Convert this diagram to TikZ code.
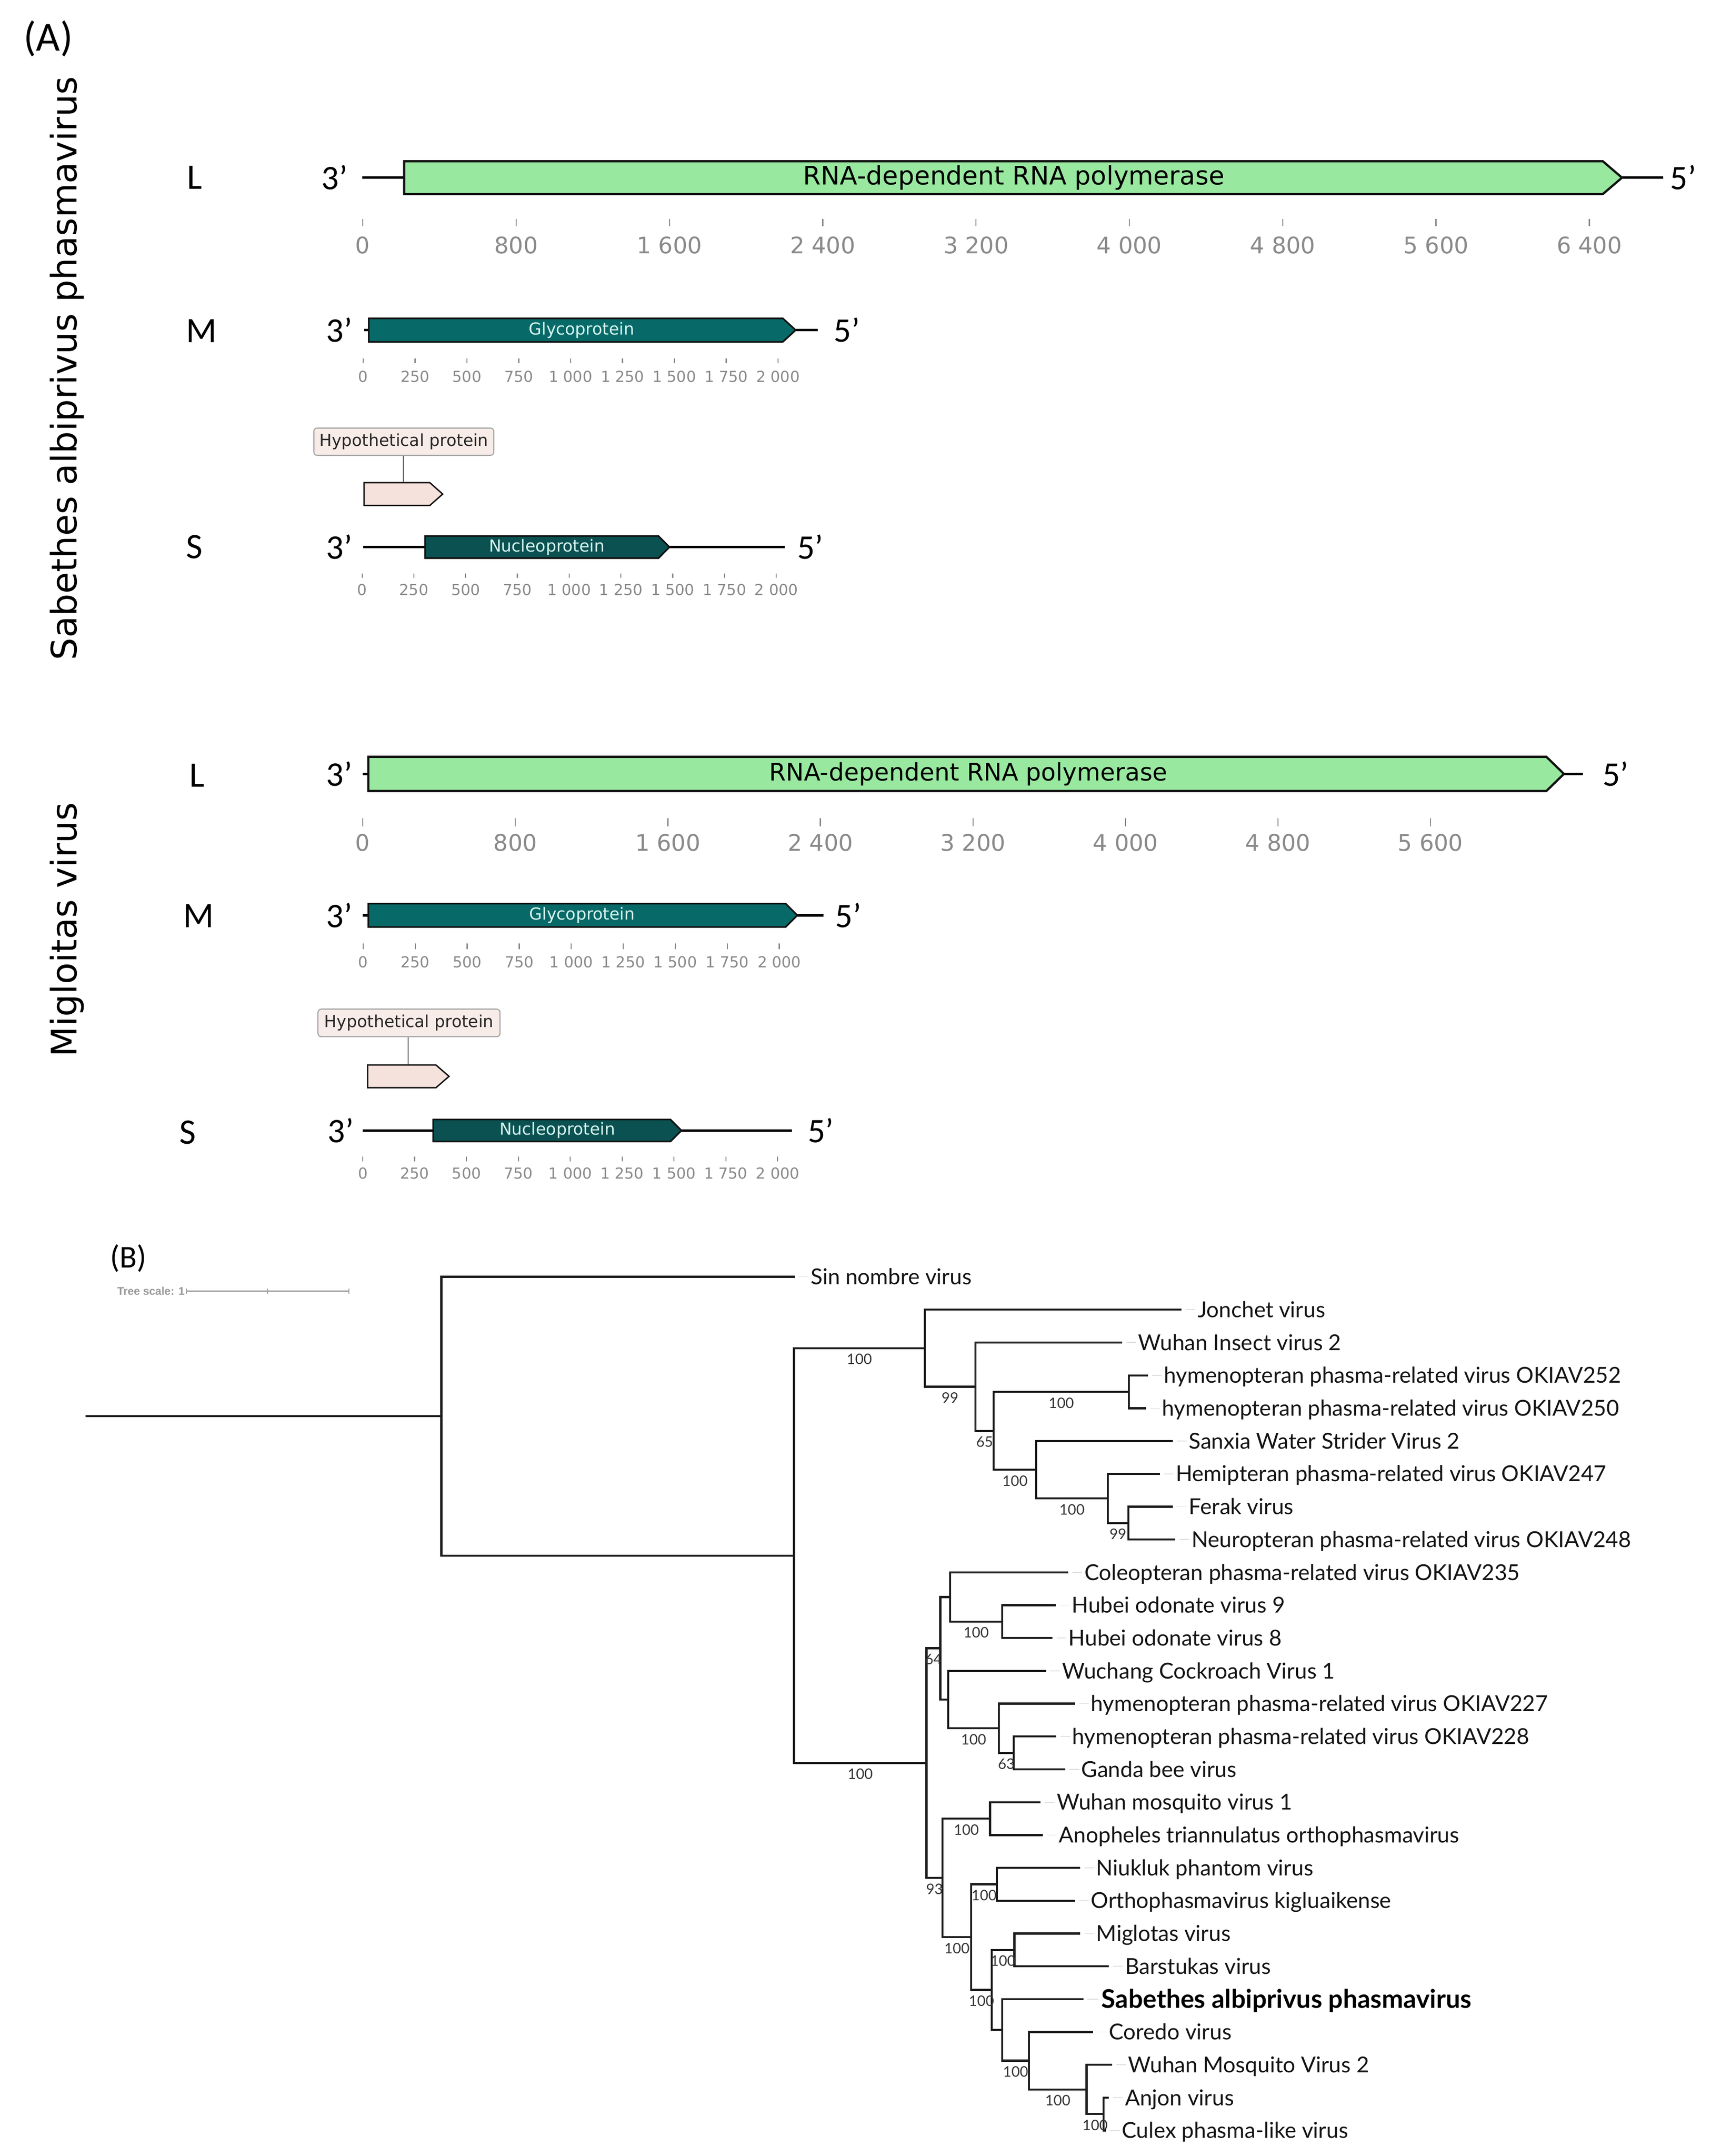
\documentclass[tikz,border=0pt]{standalone}
\usepackage{fontspec}
\usetikzlibrary{calc}
\newfontfamily\lato{Lato}
\newfontfamily\dvs{DejaVu Sans}
\newfontfamily\carl{Carlito}
\newfontfamily\libs{Liberation Sans}
\definecolor{lgreen}{HTML}{99E8A0}
\definecolor{glyc}{HTML}{086A68}
\definecolor{nucl}{HTML}{0B5151}
\definecolor{hypo}{HTML}{F5E2DC}
\definecolor{hypobox}{HTML}{F8ECE8}
\definecolor{axisgray}{HTML}{8A8A8A}
\definecolor{gtext}{HTML}{D6F3EE}
\definecolor{outl}{HTML}{111111}
\definecolor{treec}{HTML}{1C1C1C}
\definecolor{bsc}{HTML}{333333}
\newcommand\gshape[6]{\draw[#6] (#1,#4-#5) -- (#2,#4-#5) -- (#3,#4) -- (#2,#4+#5) -- (#1,#4+#5) -- cycle;}
\tikzset{
  panel/.style={inner sep=0pt, font=\carl\fontsize{30}{34}\selectfont},
  seg/.style={inner sep=0pt, font=\carl\fontsize{26}{30}\selectfont},
  endlab/.style={inner sep=0pt, font=\carl\fontsize{25}{29}\selectfont},
  vtitle/.style={inner sep=0pt, rotate=90, anchor=base, font=\dvs\fontsize{25.5}{30}\selectfont},
  backbone/.style={line width=1.8pt, draw=black},
  gL/.style={draw=outl, line width=1.6pt, fill=lgreen, line join=miter},
  gG/.style={draw=outl, line width=1.2pt, fill=glyc, line join=miter},
  gN/.style={draw=outl, line width=1.2pt, fill=nucl, line join=miter},
  gH/.style={draw=outl, line width=1.0pt, fill=hypo, line join=miter},
  txtL/.style={inner sep=0pt, text=black, font=\dvs\fontsize{18.5}{22}\selectfont},
  txtLm/.style={inner sep=0pt, text=black, font=\dvs\fontsize{17.5}{21}\selectfont},
  txtG/.style={inner sep=0pt, text=gtext, font=\dvs\fontsize{12}{14}\selectfont},
  hbox/.style={draw=gray!70, line width=0.8pt, fill=hypobox, rounded corners=2.5pt, inner sep=0pt, text=black!85, font=\dvs\fontsize{12}{14}\selectfont},
  hline/.style={draw=gray!80!black, line width=0.7pt},
  tick/.style={draw=axisgray, line width=0.8pt},
  axL/.style={inner sep=0pt, text=axisgray, font=\dvs\fontsize{16.5}{19}\selectfont},
  axS/.style={inner sep=0pt, text=axisgray, font=\dvs\fontsize{11}{13}\selectfont},
  tree/.style={draw=treec, line width=1.5pt, line join=miter},
  leaf/.style={anchor=base west, inner sep=0pt, text=black!92, font=\lato\fontsize{15.9}{18}\selectfont},
  leafb/.style={anchor=base west, inner sep=0pt, text=black, font=\lato\bfseries\fontsize{18.6}{21}\selectfont},
  bs/.style={anchor=north, inner sep=0pt, text=bsc, font=\lato\fontsize{10.5}{12}\selectfont},
  conn/.style={draw=gray!25, line width=0.6pt},
  scalebar/.style={draw=gray!70, line width=0.8pt},
  scaletxt/.style={inner sep=0pt, anchor=east, text=gray!80, font=\libs\bfseries\fontsize{8}{9}\selectfont}
}
\begin{document}
\begin{tikzpicture}[x=1pt,y=-1pt]
\useasboundingbox[fill=white] (0,0) rectangle (1240,1562.9);

% ---------------- Panel A ----------------
\node[panel] (pA) at (35,28) {(A)};
\node[vtitle] (tSab) at (55.5,267) {Sabethes albiprivus phasmavirus};
\node[vtitle] (tMig) at (55.5,674) {Migloitas virus};

% Sabethes L
\node[seg] (sL) at (141,128.8) {L};
\node[endlab] (sL3) at (242.6,128.8) {3’};
\draw[backbone] (262.5,128.8) -- (293,128.8);
\draw[backbone] (1175.8,128.8) -- (1205.8,128.8);
\gshape{293}{1161.9}{1175.8}{128.8}{11.9}{gL}
\node[txtL] (sLt) at (735,128.8) {RNA-dependent RNA polymerase};
\node[endlab] (sL5) at (1220.2,128.8) {5’};
\foreach \v/\t in {0/0,800/800,1600/{1 600},2400/{2 400},3200/{3 200},4000/{4 000},4800/{4 800},5600/{5 600},6400/{6 400}}{
  \pgfmathsetmacro\xx{263+\v/800*111.14}
  \draw[tick] (\xx,158.8) -- (\xx,164);
  \node[axL] (sLa\v) at (\xx,177.7) {\t};
}

% Sabethes M
\node[seg] (sM) at (146,240) {M};
\node[endlab] (sM3) at (246,239.3) {3’};
\draw[backbone] (263.9,239.3) -- (267.3,239.3);
\draw[backbone] (576.8,239.3) -- (592.7,239.3);
\gshape{267.3}{567.5}{576.8}{239.3}{8.5}{gG}
\node[txtG] (sMt) at (421.6,239.3) {Glycoprotein};
\node[endlab] (sM5) at (614,239.3) {5’};
\foreach \v/\t in {0/0,250/250,500/500,750/750,1000/{1 000},1250/{1 250},1500/{1 500},1750/{1 750},2000/{2 000}}{
  \pgfmathsetmacro\xx{263.3+\v/250*37.59}
  \draw[tick] (\xx,259.7) -- (\xx,263.3);
  \node[axS] (sMa\v) at (\xx,272.9) {\t};
}

% Sabethes hypothetical protein
\node[hbox, minimum width=130.5pt, minimum height=19.8pt] (sHb) at (292.75,320.2) {Hypothetical protein};
\coordinate (sHg) at (292.5,349.9);
\draw[hline] (sHb.south -| sHg) -- (sHg);
\gshape{263.9}{311.6}{320.9}{358.15}{8.25}{gH}

% Sabethes S
\node[seg] (sS) at (141,396.6) {S};
\node[endlab] (sS3) at (246,396.6) {3’};
\draw[backbone] (263.3,396.6) -- (308.1,396.6);
\draw[backbone] (485.3,396.6) -- (568.8,396.6);
\gshape{308.1}{477.3}{485.3}{396.6}{8.05}{gN}
\node[txtG] (sSt) at (396.4,396.6) {Nucleoprotein};
\node[endlab] (sS5) at (587.4,396.6) {5’};
\foreach \v/\t in {0/0,250/250,500/500,750/750,1000/{1 000},1250/{1 250},1500/{1 500},1750/{1 750},2000/{2 000}}{
  \pgfmathsetmacro\xx{262.5+\v/250*37.53}
  \draw[tick] (\xx,415.9) -- (\xx,419);
  \node[axS] (sSa\v) at (\xx,427.5) {\t};
}

% Migloitas L
\node[seg] (mL) at (143,562) {L};
\node[endlab] (mL3) at (246,561) {3’};
\draw[backbone] (263,561) -- (267,561);
\draw[backbone] (1133.7,561) -- (1147.5,561);
\gshape{267}{1121}{1133.7}{561}{12.4}{gL}
\node[txtLm] (mLt) at (702,561) {RNA-dependent RNA polymerase};
\node[endlab] (mL5) at (1171.2,561) {5’};
\foreach \v/\t in {0/0,800/800,1600/{1 600},2400/{2 400},3200/{3 200},4000/{4 000},4800/{4 800},5600/{5 600}}{
  \pgfmathsetmacro\xx{263+\v/800*110.57}
  \draw[tick] (\xx,593) -- (\xx,599);
  \node[axL] (mLa\v) at (\xx,611) {\t};
}

% Migloitas M
\node[seg] (mM) at (144,664) {M};
\node[endlab] (mM3) at (246,663.5) {3’};
\draw[backbone] (263,663.5) -- (267,663.5);
\draw[backbone] (578,663.5) -- (597,663.5);
\gshape{267}{569.5}{578}{663.5}{8.5}{gG}
\node[txtG] (mMt) at (422,663.5) {Glycoprotein};
\node[endlab] (mM5) at (615,663.5) {5’};
\foreach \v/\t in {0/0,250/250,500/500,750/750,1000/{1 000},1250/{1 250},1500/{1 500},1750/{1 750},2000/{2 000}}{
  \pgfmathsetmacro\xx{263.3+\v/250*37.7}
  \draw[tick] (\xx,684) -- (\xx,688);
  \node[axS] (mMa\v) at (\xx,697.5) {\t};
}

% Migloitas hypothetical protein
\node[hbox, minimum width=132pt, minimum height=20pt] (mHb) at (296.5,741.5) {Hypothetical protein};
\coordinate (mHg) at (296,772);
\draw[hline] (mHb.south -| mHg) -- (mHg);
\gshape{266.5}{316}{325.5}{780.25}{8.25}{gH}

% Migloitas S
\node[seg] (mS) at (136,821) {S};
\node[endlab] (mS3) at (247,819.5) {3’};
\draw[backbone] (263,819.5) -- (314,819.5);
\draw[backbone] (494,819.5) -- (574,819.5);
\gshape{314}{486}{494}{819.5}{8}{gN}
\node[txtG] (mSt) at (404,819.5) {Nucleoprotein};
\node[endlab] (mS5) at (595,819.5) {5’};
\foreach \v/\t in {0/0,250/250,500/500,750/750,1000/{1 000},1250/{1 250},1500/{1 500},1750/{1 750},2000/{2 000}}{
  \pgfmathsetmacro\xx{263+\v/250*37.6}
  \draw[tick] (\xx,838.5) -- (\xx,842);
  \node[axS] (mSa\v) at (\xx,850.5) {\t};
}

% ---------------- Panel B ----------------
\node[panel, font=\carl\fontsize{23}{27}\selectfont] (pB) at (93,912) {(B)};
\coordinate (sc0) at (135,936);
\coordinate (sc1) at (194,936);
\coordinate (sc2) at (253,936);
\node[scaletxt] (sct) at (134,936) {Tree scale: 1};
\draw[scalebar] (sc0) -- (sc2);
\foreach \c in {sc0,sc1,sc2}{ \draw[scalebar, line width=0.6pt] ([yshift=2pt]\c) -- ([yshift=-2pt]\c); }

% tree coordinates
\coordinate (root0) at (62,1026.6);
\coordinate (root) at (320,1026.6);
\coordinate (L0) at (576,925.6);
\coordinate (nbig) at (575.6,1127.65);
\coordinate (nup) at (670.3,977.3);
\coordinate (L1) at (856.6,949.4);
\coordinate (n99) at (707.1,1005.2);
\coordinate (L2) at (813.5,973.2);
\coordinate (n65) at (720.4,1037.2);
\coordinate (nhym) at (818.3,1008.9);
\coordinate (L3) at (832.2,997.0);
\coordinate (L4) at (830.8,1020.8);
\coordinate (nsanx) at (751.2,1065.4);
\coordinate (L5) at (850.1,1044.6);
\coordinate (nhemi) at (803,1086.25);
\coordinate (L6) at (840.7,1068.4);
\coordinate (nferak) at (817.9,1104.1);
\coordinate (L7) at (850.1,1092.2);
\coordinate (L8) at (852.1,1116.0);
\coordinate (nlow) at (671.6,1278.0);
\coordinate (n64) at (681.7,1194.8);
\coordinate (ncol) at (688.7,1157.65);
\coordinate (L9) at (774.5,1139.8);
\coordinate (nhub) at (726.6,1175.5);
\coordinate (L10) at (765.2,1163.6);
\coordinate (L11) at (762.9,1187.4);
\coordinate (nwuc) at (687.4,1232.0);
\coordinate (L12) at (758.3,1211.2);
\coordinate (n227) at (724.2,1252.85);
\coordinate (L13) at (779.2,1235.0);
\coordinate (n63) at (734.8,1270.7);
\coordinate (L14) at (765.7,1258.8);
\coordinate (L15) at (772.2,1282.6);
\coordinate (n93) at (683.3,1361.25);
\coordinate (nwm1) at (717.7,1318.3);
\coordinate (L16) at (754.4,1306.4);
\coordinate (L17) at (756.0,1330.2);
\coordinate (nnm) at (704.1,1404.2);
\coordinate (nniuk) at (722.7,1365.9);
\coordinate (L18) at (783.0,1354.0);
\coordinate (L19) at (779.2,1377.8);
\coordinate (nmigsab) at (718.8,1442.5);
\coordinate (nmig) at (735.4,1413.5);
\coordinate (L20) at (783.0,1401.6);
\coordinate (L21) at (803.9,1425.4);
\coordinate (nsab) at (726.6,1471.5);
\coordinate (L22) at (785.3,1449.2);
\coordinate (ncor) at (745.9,1493.8);
\coordinate (L23) at (792.3,1473.0);
\coordinate (nwuh2) at (787.7,1514.65);
\coordinate (L24) at (806.2,1496.8);
\coordinate (ncul) at (800.0,1532.5);
\coordinate (L25) at (803.9,1520.6);
\coordinate (L26) at (801.6,1544.4);

% branches
\draw[tree] (root0) -- (root);
\foreach \p/\c in {root/L0,root/nbig,nbig/nup,nbig/nlow,nup/L1,nup/n99,n99/L2,n99/n65,n65/nhym,n65/nsanx,nhym/L3,nhym/L4,nsanx/L5,nsanx/nhemi,nhemi/L6,nhemi/nferak,nferak/L7,nferak/L8,nlow/n64,nlow/n93,n64/ncol,n64/nwuc,ncol/L9,ncol/nhub,nhub/L10,nhub/L11,nwuc/L12,nwuc/n227,n227/L13,n227/n63,n63/L14,n63/L15,n93/nwm1,n93/nnm,nwm1/L16,nwm1/L17,nnm/nniuk,nnm/nmigsab,nniuk/L18,nniuk/L19,nmigsab/nmig,nmigsab/nsab,nmig/L20,nmig/L21,nsab/L22,nsab/ncor,ncor/L23,ncor/nwuh2,nwuh2/L24,nwuh2/ncul,ncul/L25,ncul/L26}{
  \draw[tree] (\p) |- (\c);
}

% bootstrap values
\foreach \p/\c/\v in {nbig/nup/100,nup/n99/99,n99/n65/65,n65/nhym/100,n65/nsanx/100,nsanx/nhemi/100,nhemi/nferak/99,nbig/nlow/100,nlow/n64/64,ncol/nhub/100,nwuc/n227/100,n227/n63/63,nlow/n93/93,n93/nwm1/100,n93/nnm/100,nnm/nniuk/100,nnm/nmigsab/100,nmigsab/nmig/100,nsab/ncor/100,ncor/nwuh2/100,nwuh2/ncul/100}{
  \node[bs, yshift=-4pt] (bs\c) at ($(\p|-\c)!0.5!(\c)$) {\v};
}

% leaf labels
\foreach \l/\t in {L0/Sin nombre virus,L1/Jonchet virus,L2/Wuhan Insect virus 2,L3/hymenopteran phasma-related virus OKIAV252,L4/hymenopteran phasma-related virus OKIAV250,L5/Sanxia Water Strider Virus 2,L6/Hemipteran phasma-related virus OKIAV247,L7/Ferak virus,L8/Neuropteran phasma-related virus OKIAV248,L9/Coleopteran phasma-related virus OKIAV235,L10/Hubei odonate virus 9,L11/Hubei odonate virus 8,L12/Wuchang Cockroach Virus 1,L13/hymenopteran phasma-related virus OKIAV227,L14/hymenopteran phasma-related virus OKIAV228,L15/Ganda bee virus,L16/Wuhan mosquito virus 1,L17/Anopheles triannulatus orthophasmavirus,L18/Niukluk phantom virus,L19/Orthophasmavirus kigluaikense,L20/Miglotas virus,L21/Barstukas virus,L23/Coredo virus,L24/Wuhan Mosquito Virus 2,L25/Anjon virus,L26/Culex phasma-like virus}{
  \node[leaf] (t\l) at ([xshift=11.5pt,yshift=-5.6pt]\l) {\t};
  \draw[conn] ([xshift=3pt]\l) -- ([xshift=10pt]\l);
}
\node[leafb] (tL22) at ([xshift=13pt,yshift=-6.5pt]L22) {Sabethes albiprivus phasmavirus};
\draw[conn] ([xshift=3pt]L22) -- ([xshift=11pt]L22);
\end{tikzpicture}
\end{document}
